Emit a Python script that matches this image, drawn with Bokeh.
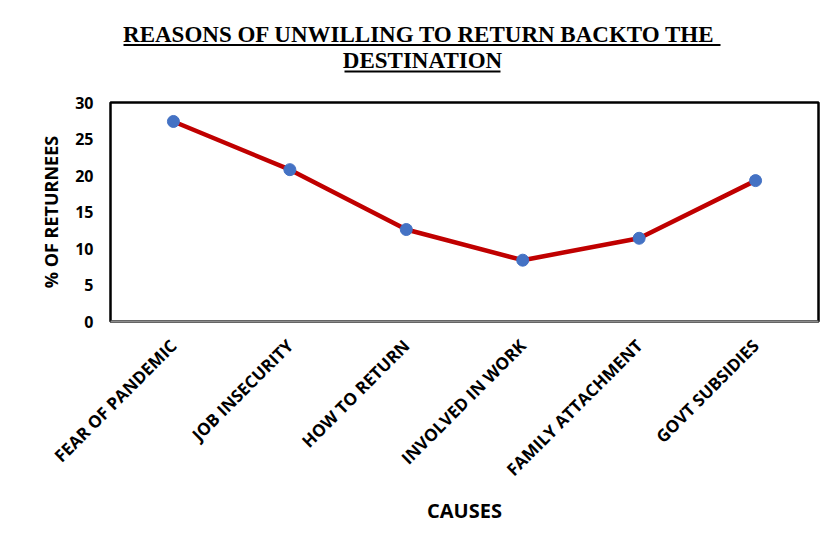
from bokeh.plotting import figure
from bokeh.models import Range1d, FactorRange, FixedTicker, ColumnDataSource
from bokeh.layouts import column
from bokeh.core.properties import value
from bokeh.embed import file_html
from bokeh.resources import INLINE
import math

# ---- data ----
causes = ["FEAR OF PANDEMIC", "JOB INSECURITY", "HOW TO RETURN",
          "INVOLVED IN WORK", "FAMILY ATTACHMENT", "GOVT SUBSIDIES"]
percent_returnees = [27.4, 20.8, 12.6, 8.4, 11.4, 19.3]
y_ticks = [0, 5, 10, 15, 20, 25, 30]
title_lines = ["REASONS OF UNWILLING  TO RETURN BACKTO THE", "DESTINATION"]

FONT = "Open Sans"

# ---- title figure (text + underline); frame aligned with the chart frame ----
t = figure(width=826, height=88, x_range=Range1d(110, 818), y_range=Range1d(0, 88),
           output_backend="svg", toolbar_location=None,
           x_axis_location=None, y_axis_location=None,
           min_border_left=110, min_border_right=8, min_border_top=0,
           min_border_bottom=0, outline_line_color=None)
t.grid.visible = False
t.text(x=[421.5, 422], y=[54, 28], text=title_lines,
       text_font=value("Liberation Serif"), text_font_style="bold",
       text_font_size="23px", text_align="center", text_baseline="alphabetic",
       text_color="black")
t.segment(x0=[123, 344], y0=[43.5, 17], x1=[720, 500], y1=[43.5, 17],
          line_color="black", line_width=2)

# ---- main chart ----
p = figure(width=826, height=462, x_range=FactorRange(*causes, range_padding=0.0135),
           y_range=Range1d(0, 30), output_backend="svg", toolbar_location=None,
           min_border_left=110, min_border_right=8, min_border_top=14,
           min_border_bottom=229)
p.outline_line_color = "black"
p.outline_line_width = 2.5
p.grid.visible = False

src = ColumnDataSource(dict(x=causes, y=percent_returnees))
p.line("x", "y", source=src, line_color="#C00000", line_width=4.5)
p.scatter("x", "y", source=src, size=12, fill_color="#4472C4", line_color="#4472C4")

p.yaxis.ticker = FixedTicker(ticks=y_ticks)
p.yaxis.axis_line_color = None
p.yaxis.major_tick_line_color = None
p.yaxis.minor_tick_line_color = None
p.yaxis.major_tick_out = 0
p.yaxis.minor_tick_out = 0
p.yaxis.major_label_standoff = 17
p.yaxis.major_label_text_font = FONT
p.yaxis.major_label_text_font_style = "bold"
p.yaxis.major_label_text_font_size = "16px"
p.yaxis.major_label_text_color = "black"
p.yaxis.axis_label = "% OF RETURNEES"
p.yaxis.axis_label_text_font = FONT
p.yaxis.axis_label_text_font_style = "bold"
p.yaxis.axis_label_text_font_size = "18px"
p.yaxis.axis_label_text_color = "black"
p.yaxis.axis_label_standoff = 9

p.xaxis.axis_line_color = "#8c8c8c"
p.xaxis.axis_line_width = 2
p.xaxis.major_tick_line_color = None
p.xaxis.minor_tick_line_color = None
p.xaxis.major_tick_out = 0
p.xaxis.minor_tick_out = 0
p.xaxis.major_label_orientation = math.pi / 4
p.xaxis.major_label_standoff = 21
p.xaxis.major_label_text_font = FONT
p.xaxis.major_label_text_font_style = "bold"
p.xaxis.major_label_text_font_size = "17px"
p.xaxis.major_label_text_color = "black"
p.xaxis.axis_label = "CAUSES"
p.xaxis.axis_label_text_font = FONT
p.xaxis.axis_label_text_font_style = "bold"
p.xaxis.axis_label_text_font_size = "20px"
p.xaxis.axis_label_text_color = "black"
p.xaxis.axis_label_standoff = 5

layout = column(t, p, spacing=0)
open("out.html", "w").write(file_html(layout, INLINE))
